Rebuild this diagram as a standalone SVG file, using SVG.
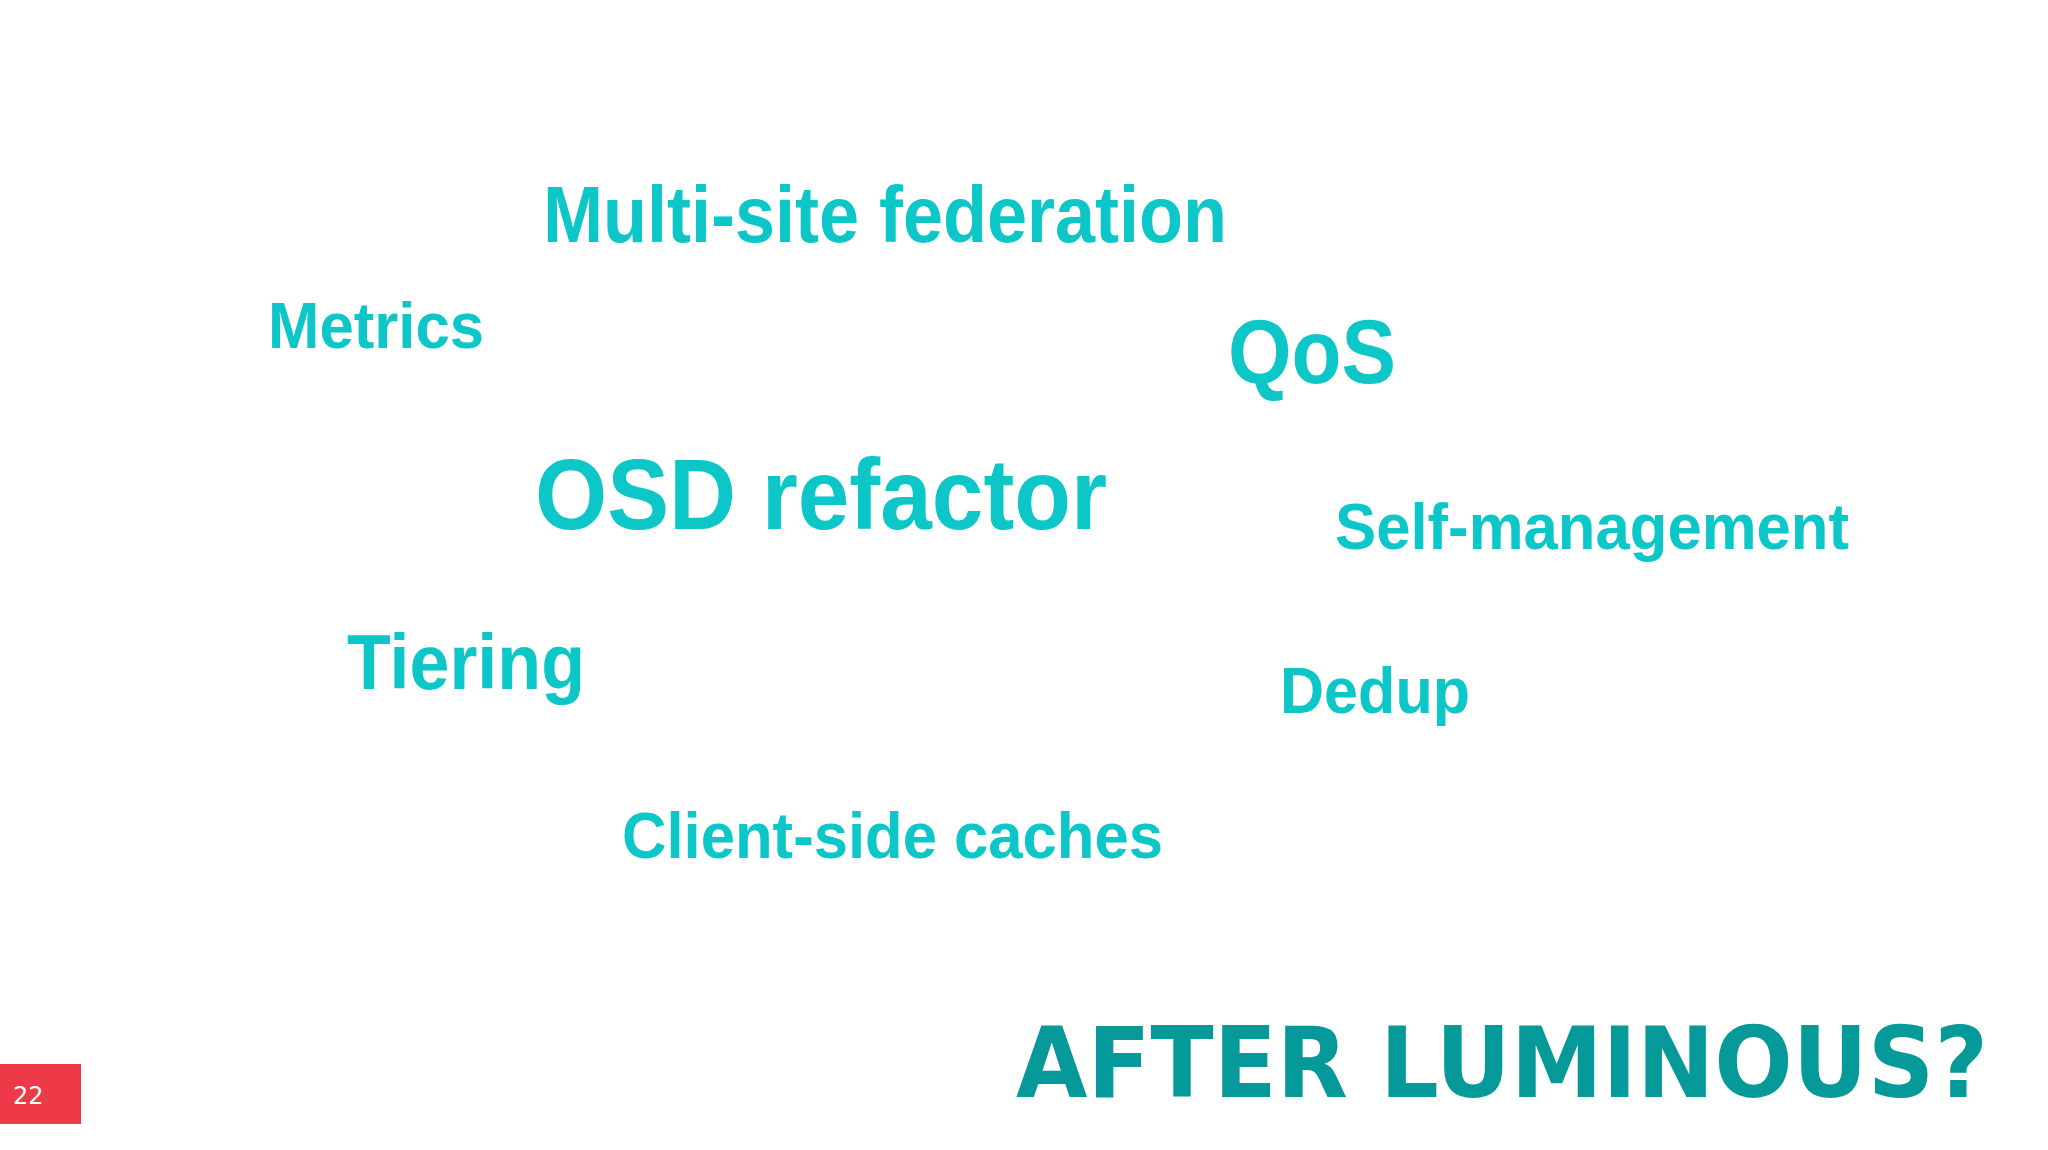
<svg xmlns="http://www.w3.org/2000/svg" width="2048" height="1150" viewBox="0 0 2048 1150">
<style>
.t{font-family:"Liberation Sans",Arial,sans-serif;font-weight:bold;fill:#0cc6c8}
.h{font-family:"DejaVu Sans",sans-serif;font-weight:bold;fill:#069999}
</style>
<rect width="2048" height="1150" fill="#fff"/>
<g id="multisite"><text class="t" x="543" y="242" font-size="80" textLength="684" lengthAdjust="spacingAndGlyphs">Multi-site federation</text></g>
<g id="metrics"><text class="t" x="268" y="348" font-size="64" textLength="216" lengthAdjust="spacingAndGlyphs">Metrics</text></g>
<g id="qos"><text class="t" x="1228" y="383" font-size="90" textLength="168" lengthAdjust="spacingAndGlyphs">QoS</text></g>
<g id="osd"><text class="t" x="535" y="529" font-size="100" textLength="572" lengthAdjust="spacingAndGlyphs">OSD refactor</text></g>
<g id="self"><text class="t" x="1335" y="549" font-size="64" textLength="514" lengthAdjust="spacingAndGlyphs">Self-management</text></g>
<g id="tiering"><text class="t" x="347" y="689" font-size="78" textLength="238" lengthAdjust="spacingAndGlyphs">Tiering</text></g>
<g id="dedup"><text class="t" x="1280" y="713" font-size="64" textLength="190" lengthAdjust="spacingAndGlyphs">Dedup</text></g>
<g id="client"><text class="t" x="622" y="858" font-size="64" textLength="541" lengthAdjust="spacingAndGlyphs">Client-side caches</text></g>
<g id="title"><text class="h" x="1016" y="1097" font-size="98" textLength="972" lengthAdjust="spacingAndGlyphs">AFTER LUMINOUS?</text></g>
<g id="page"><rect x="0" y="1064" width="81" height="60" fill="#ee3a48"/><text x="13" y="1104" font-family="DejaVu Sans,sans-serif" font-size="24" fill="#fff">22</text></g>
<g id="connectors"/>
</svg>
